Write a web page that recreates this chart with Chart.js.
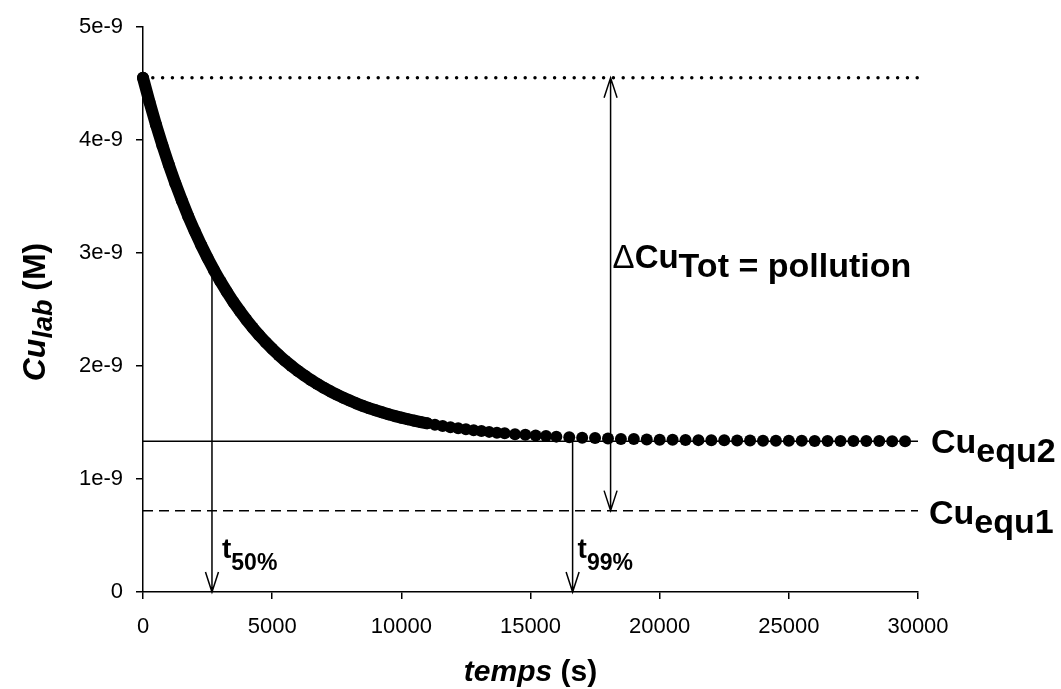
<!DOCTYPE html>
<html>
<head>
<meta charset="utf-8">
<script src="https://cdn.jsdelivr.net/npm/chart.js@4.4.1/dist/chart.umd.min.js"></script>
<style>
  html, body { margin: 0; padding: 0; background: #fff; }
  canvas { display: block; }
</style>
</head>
<body>
<canvas id="cuChart" width="1061" height="689"></canvas>
<script>
// time (s)
const temps = [0, 250, 500, 750, 1000, 1250, 1500, 1750, 2000, 2250, 2500, 2750, 3000, 3250, 3500, 3750,
  4000, 4250, 4500, 4750, 5000, 5250, 5500, 5750, 6000, 6250, 6500, 6750, 7000, 7250, 7500, 7750,
  8000, 8250, 8500, 8750, 9000, 9250, 9500, 9750, 10000, 10250, 10500, 10750, 11000,
  11300, 11600, 11900, 12200, 12500, 12800, 13100, 13400, 13700, 14000,
  14400, 14800, 15200, 15600, 16000,
  16500, 17000, 17500, 18000, 18500, 19000, 19500, 20000, 20500, 21000, 21500, 22000, 22500,
  23000, 23500, 24000, 24500, 25000, 25500, 26000, 26500, 27000, 27500, 28000, 28500, 29000, 29500];

// Cu lab (x 1e-9 M)
const cuLab = [4.550, 4.337, 4.138, 3.953, 3.780, 3.618, 3.467, 3.325, 3.194, 3.071, 2.956, 2.848, 2.748, 2.655, 2.567, 2.486,
  2.410, 2.338, 2.272, 2.210, 2.152, 2.098, 2.047, 2.000, 1.956, 1.915, 1.877, 1.841, 1.807, 1.776, 1.747, 1.720,
  1.694, 1.670, 1.648, 1.627, 1.608, 1.590, 1.573, 1.557, 1.543, 1.529, 1.516, 1.504, 1.493,
  1.480, 1.469, 1.458, 1.449, 1.440, 1.431, 1.424, 1.417, 1.410, 1.404,
  1.397, 1.391, 1.385, 1.380, 1.375,
  1.370, 1.366, 1.362, 1.358, 1.355, 1.353, 1.350, 1.348, 1.347, 1.345, 1.344, 1.343, 1.342,
  1.341, 1.340, 1.339, 1.339, 1.338, 1.338, 1.337, 1.337, 1.336, 1.336, 1.336, 1.336, 1.335, 1.335];

// reference levels (x 1e-9 M) and times (s)
const cuInit = 4.55;
const cuEqu2 = 1.335;
const cuEqu1 = 0.72;
const t50 = 2670;
const t50Level = 2.87;
const t99 = 16630;
const tDelta = 18100;

const yTickLabels = ['0', '1e-9', '2e-9', '3e-9', '4e-9', '5e-9'];
const xRange = [0, 30000];

const FONT = '"Liberation Sans", Arial, sans-serif';

function hline(level, dash, width, cap) {
  return {
    data: xRange.map(t => ({ x: t, y: level })),
    showLine: true,
    borderColor: '#000',
    borderWidth: width,
    borderDash: dash,
    borderCapStyle: cap || 'butt',
    pointRadius: 0,
    pointHoverRadius: 0,
    clip: false
  };
}

// draws a run of text pieces (font, vertical shift) one after another
function richText(ctx, parts, x, y, align) {
  let total = 0;
  parts.forEach(p => { ctx.font = p.font; total += ctx.measureText(p.text).width; });
  let cx = align === 'center' ? x - total / 2 : x;
  ctx.textAlign = 'left';
  ctx.textBaseline = 'alphabetic';
  parts.forEach(p => {
    ctx.font = p.font;
    ctx.fillText(p.text, cx, y + (p.dy || 0));
    cx += ctx.measureText(p.text).width;
  });
}

function vArrow(ctx, px, yA, yB, headA, headB) {
  ctx.beginPath();
  ctx.moveTo(px, yA);
  ctx.lineTo(px, yB);
  const head = (tip, dir) => {
    ctx.moveTo(px - 6.5, tip - dir * 20);
    ctx.lineTo(px, tip);
    ctx.lineTo(px + 6.5, tip - dir * 20);
  };
  if (headA) head(yA, yA < yB ? -1 : 1);
  if (headB) head(yB, yB > yA ? 1 : -1);
  ctx.stroke();
}

const annotations = {
  id: 'annotations',
  afterDatasetsDraw(chart) {
    const { ctx, scales: { x, y } } = chart;
    ctx.save();
    ctx.strokeStyle = '#000';
    ctx.fillStyle = '#000';
    ctx.lineWidth = 1.5;

    vArrow(ctx, x.getPixelForValue(t50), y.getPixelForValue(t50Level), y.getPixelForValue(0), false, true);
    vArrow(ctx, x.getPixelForValue(t99), y.getPixelForValue(cuEqu2), y.getPixelForValue(0), false, true);
    vArrow(ctx, x.getPixelForValue(tDelta), y.getPixelForValue(cuInit), y.getPixelForValue(cuEqu1), true, true);

    const b = 'bold ';
    richText(ctx, [
      { text: 't', font: b + '28px ' + FONT },
      { text: '50%', font: b + '23px ' + FONT, dy: 12 }
    ], x.getPixelForValue(t50) + 10, 558);
    richText(ctx, [
      { text: 't', font: b + '28px ' + FONT },
      { text: '99%', font: b + '23px ' + FONT, dy: 12 }
    ], x.getPixelForValue(t99) + 5, 558);

    richText(ctx, [
      { text: '\u0394', font: '33px ' + FONT },
      { text: 'Cu', font: b + '33px ' + FONT },
      { text: 'Tot = pollution', font: b + '34px ' + FONT, dy: 9 }
    ], x.getPixelForValue(tDelta) + 2, 268);

    richText(ctx, [
      { text: 'Cu', font: b + '34px ' + FONT },
      { text: 'equ2', font: b + '34px ' + FONT, dy: 9 }
    ], 931, 453);
    richText(ctx, [
      { text: 'Cu', font: b + '34px ' + FONT },
      { text: 'equ1', font: b + '34px ' + FONT, dy: 9 }
    ], 929, 524);

    // axis titles
    richText(ctx, [
      { text: 'temps', font: 'italic bold 30px ' + FONT },
      { text: ' (s)', font: 'bold 30px ' + FONT }
    ], (x.left + x.right) / 2, 681, 'center');

    ctx.translate(45, 312);
    ctx.rotate(-Math.PI / 2);
    richText(ctx, [
      { text: 'Cu', font: 'italic bold 32px ' + FONT },
      { text: 'lab', font: 'italic bold 27px ' + FONT, dy: 7 },
      { text: ' (M)', font: 'bold 32px ' + FONT }
    ], 0, 0, 'center');
    ctx.restore();
  }
};

const ctx = document.getElementById('cuChart').getContext('2d');

new Chart(ctx, {
  type: 'scatter',
  data: {
    datasets: [
      {
        data: temps.map((t, i) => ({ x: t, y: cuLab[i] })),
        showLine: true,
        borderColor: '#000',
        borderWidth: 12,
        borderCapStyle: 'round',
        borderJoinStyle: 'round',
        // the early part is so dense that the points merge into one thick curve
        segment: {
          borderColor: c => c.p1.parsed.x > 11000 ? 'rgba(0,0,0,0)' : '#000'
        },
        pointRadius: 6,
        pointHoverRadius: 6,
        pointBackgroundColor: '#000',
        pointBorderWidth: 0,
        clip: false
      },
      hline(cuEqu2, [], 1.5),
      hline(cuEqu1, [10, 6], 1.5),
      hline(cuInit, [0, 9.8], 3.5, 'round')
    ]
  },
  options: {
    responsive: false,
    animation: false,
    events: [],
    layout: { padding: { top: 27, right: 143, left: 0, bottom: 0 } },
    plugins: { legend: { display: false }, tooltip: { enabled: false } },
    scales: {
      x: {
        type: 'linear',
        min: xRange[0],
        max: xRange[1],
        afterFit: s => { s.height = 97; },
        border: { color: '#000', width: 1.5 },
        grid: { drawOnChartArea: false, color: '#000', lineWidth: 1.5, tickLength: 7 },
        ticks: {
          stepSize: 5000,
          color: '#000',
          padding: 15,
          font: { family: FONT, size: 22 },
          callback: v => String(v)
        }
      },
      y: {
        min: 0,
        max: 5,
        afterFit: s => { s.width = 143; },
        border: { color: '#000', width: 1.5 },
        grid: { drawOnChartArea: false, color: '#000', lineWidth: 1.5, tickLength: 7 },
        ticks: {
          stepSize: 1,
          color: '#000',
          padding: 13,
          font: { family: FONT, size: 22 },
          callback: (v, i) => yTickLabels[i]
        }
      }
    }
  },
  plugins: [annotations]
});
</script>
</body>
</html>
